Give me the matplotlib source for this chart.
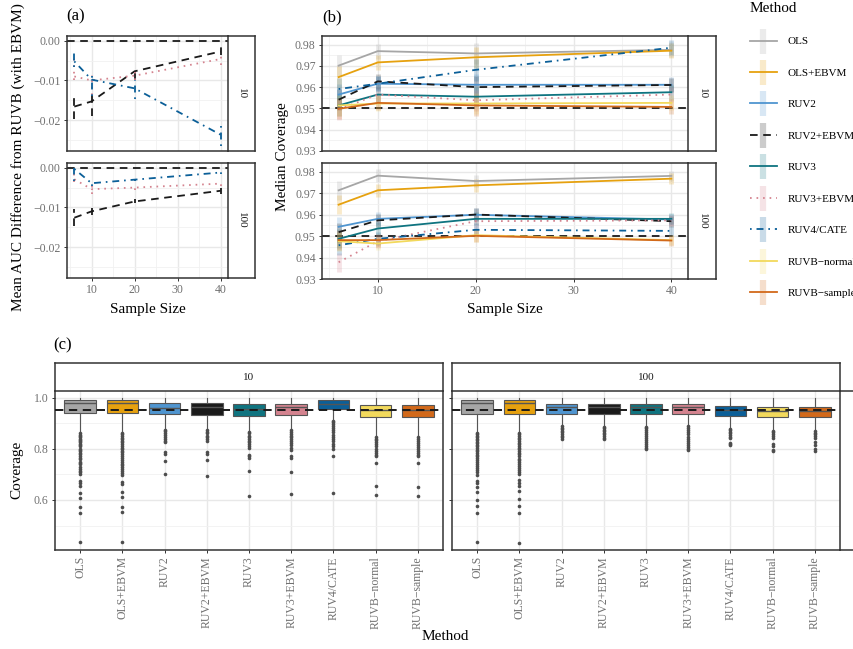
import matplotlib
matplotlib.use("Agg")
import matplotlib.pyplot as plt
import numpy as np
from matplotlib.lines import Line2D
from matplotlib.legend_handler import HandlerTuple

plt.rcParams["font.family"] = ["Liberation Serif", "DejaVu Serif"]
plt.rcParams["lines.scale_dashes"] = False

W, H = 854, 649

methods = ["OLS", "OLS+EBVM", "RUV2", "RUV2+EBVM", "RUV3", "RUV3+EBVM",
           "RUV4/CATE", "RUVB\u2212normal", "RUVB\u2212sample"]
method_colors = ["#a6a6a6", "#e6a10f", "#4f95d0", "#1a1a1a", "#0f7480",
                 "#d4838f", "#0b5f98", "#f2d95c", "#d2691a"]
method_styles = ["-", "-", "-", (0, (5.5, 4)), "-", (0, (1.2, 3.5)),
                 (0, (1.2, 3.5, 5, 3.5)), "-", "-"]

sample_sizes = [6, 10, 20, 40]
control_sets = ["10", "100"]

# (a) mean AUC difference from RUVB, rows: RUV2+EBVM, RUV3+EBVM, RUV4/CATE
auc_methods = [3, 5, 6]
auc_mean_10 = [[-0.0166, -0.0153, -0.0077, -0.0027],
               [-0.0090, -0.0100, -0.0088, -0.0046],
               [-0.0052, -0.0098, -0.0120, -0.0237]]
auc_lo_10 = [[-0.0198, -0.0189, -0.0098, -0.0035],
             [-0.0098, -0.0136, -0.0098, -0.0060],
             [-0.0065, -0.0140, -0.0147, -0.0266]]
auc_hi_10 = [[-0.0140, -0.0128, -0.0075, -0.0014],
             [-0.0044, -0.0086, -0.0078, -0.0030],
             [-0.0023, -0.0083, -0.0098, -0.0208]]
auc_mean_100 = [[-0.0126, -0.0110, -0.0085, -0.0058],
                [-0.0029, -0.0054, -0.0050, -0.0040],
                [-0.0003, -0.0039, -0.0030, -0.0012]]
auc_lo_100 = [[-0.0147, -0.0120, -0.0090, -0.0066],
              [-0.0037, -0.0067, -0.0055, -0.0045],
              [-0.0033, -0.0045, -0.0033, -0.0016]]
auc_hi_100 = [[-0.0103, -0.0102, -0.0080, -0.0050],
              [-0.0003, -0.0046, -0.0045, -0.0035],
              [0.0000, -0.0035, -0.0027, -0.0008]]

# (b) median coverage, rows follow `methods`
cov_med_10 = [[0.9701, 0.9769, 0.9758, 0.9775],
              [0.9647, 0.9716, 0.9740, 0.9771],
              [0.9565, 0.9616, 0.9611, 0.9611],
              [0.9541, 0.9627, 0.9600, 0.9610],
              [0.9514, 0.9565, 0.9555, 0.9576],
              [0.9495, 0.9565, 0.9538, 0.9565],
              [0.9591, 0.9616, 0.9681, 0.9785],
              [0.9514, 0.9523, 0.9523, 0.9526],
              [0.9498, 0.9526, 0.9514, 0.9507]]
cov_med_100 = [[0.9713, 0.9781, 0.9756, 0.9780],
               [0.9646, 0.9713, 0.9736, 0.9767],
               [0.9543, 0.9580, 0.9599, 0.9577],
               [0.9518, 0.9573, 0.9600, 0.9569],
               [0.9487, 0.9535, 0.9580, 0.9580],
               [0.9378, 0.9476, 0.9569, 0.9573],
               [0.9457, 0.9487, 0.9529, 0.9524],
               [0.9476, 0.9465, 0.9504, 0.9481],
               [0.9481, 0.9481, 0.9501, 0.9479]]
cov_err_10 = [0.0050, 0.0035, 0.0050, 0.0035]
cov_err_100 = [0.0045, 0.0030, 0.0030, 0.0025]

# (c) coverage boxplots at sample size 40
box_q1_10 = [0.939, 0.939, 0.935, 0.934, 0.930, 0.932, 0.955, 0.924, 0.924]
box_med_10 = [0.981, 0.981, 0.961, 0.965, 0.956, 0.962, 0.974, 0.950, 0.950]
box_q3_10 = [0.991, 0.991, 0.978, 0.978, 0.975, 0.975, 0.991, 0.973, 0.972]
box_q1_100 = [0.937, 0.937, 0.937, 0.936, 0.936, 0.937, 0.929, 0.924, 0.924]
box_med_100 = [0.978, 0.978, 0.962, 0.962, 0.962, 0.962, 0.952, 0.948, 0.948]
box_q3_100 = [0.991, 0.991, 0.974, 0.974, 0.974, 0.974, 0.969, 0.965, 0.965]
box_top = [1.0] * 9

ols_out_10 = [0.862, 0.855, 0.850, 0.845, 0.840, 0.835, 0.830, 0.825, 0.820,
              0.815, 0.810, 0.800, 0.795, 0.790, 0.785, 0.780, 0.770, 0.765,
              0.760, 0.750, 0.745, 0.740, 0.730, 0.720, 0.715, 0.710, 0.700,
              0.676, 0.666, 0.656, 0.627, 0.607, 0.572, 0.551, 0.437]
ols_ebvm_out_10 = [0.862, 0.856, 0.850, 0.844, 0.838, 0.832, 0.826, 0.820,
                   0.812, 0.805, 0.798, 0.792, 0.786, 0.778, 0.770, 0.764,
                   0.756, 0.748, 0.742, 0.735, 0.728, 0.720, 0.712, 0.705,
                   0.698, 0.672, 0.662, 0.633, 0.611, 0.571, 0.553, 0.434]
outliers_10 = [
    ols_out_10,
    ols_ebvm_out_10,
    [0.874, 0.868, 0.862, 0.855, 0.848, 0.840, 0.832, 0.826, 0.787, 0.780,
     0.754, 0.700],
    [0.874, 0.866, 0.860, 0.852, 0.845, 0.838, 0.830, 0.786, 0.778, 0.758,
     0.693],
    [0.865, 0.860, 0.852, 0.845, 0.840, 0.832, 0.825, 0.818, 0.810, 0.803,
     0.776, 0.770, 0.763, 0.713, 0.617],
    [0.872, 0.866, 0.858, 0.852, 0.845, 0.838, 0.830, 0.822, 0.815, 0.805,
     0.797, 0.770, 0.766, 0.708, 0.623],
    [0.910, 0.905, 0.898, 0.890, 0.882, 0.875, 0.865, 0.855, 0.848, 0.840,
     0.830, 0.820, 0.810, 0.800, 0.773, 0.629],
    [0.847, 0.840, 0.833, 0.826, 0.818, 0.810, 0.800, 0.792, 0.784, 0.776,
     0.770, 0.746, 0.655, 0.620],
    [0.845, 0.838, 0.830, 0.822, 0.815, 0.808, 0.800, 0.790, 0.782, 0.775,
     0.770, 0.746, 0.650, 0.616],
]
ols_out_100 = [0.863, 0.857, 0.851, 0.845, 0.840, 0.834, 0.828, 0.822, 0.816,
               0.810, 0.803, 0.797, 0.790, 0.784, 0.777, 0.770, 0.763, 0.756,
               0.748, 0.740, 0.732, 0.724, 0.716, 0.708, 0.698, 0.676, 0.665,
               0.652, 0.633, 0.600, 0.577, 0.548, 0.437]
ols_ebvm_out_100 = [0.863, 0.856, 0.849, 0.843, 0.837, 0.830, 0.824, 0.818,
                    0.812, 0.805, 0.798, 0.792, 0.785, 0.778, 0.770, 0.762,
                    0.755, 0.748, 0.740, 0.733, 0.725, 0.717, 0.708, 0.700,
                    0.678, 0.668, 0.655, 0.634, 0.602, 0.578, 0.550, 0.433]
outliers_100 = [
    ols_out_100,
    ols_ebvm_out_100,
    [0.888, 0.882, 0.876, 0.870, 0.864, 0.858, 0.852, 0.846, 0.840],
    [0.886, 0.880, 0.874, 0.868, 0.862, 0.856, 0.850, 0.843, 0.837],
    [0.887, 0.880, 0.872, 0.865, 0.857, 0.850, 0.842, 0.835, 0.827, 0.820,
     0.812, 0.805, 0.800],
    [0.888, 0.880, 0.872, 0.864, 0.856, 0.848, 0.840, 0.832, 0.824, 0.816,
     0.808, 0.800, 0.795],
    [0.878, 0.872, 0.866, 0.860, 0.854, 0.848, 0.842, 0.824, 0.818, 0.815],
    [0.871, 0.864, 0.857, 0.850, 0.843, 0.820, 0.812, 0.797, 0.790],
    [0.870, 0.863, 0.856, 0.849, 0.842, 0.826, 0.815, 0.800, 0.790],
]

BORDER = "#333333"
TICKLAB = "#707070"


def add_px_axes(fig, left, top, right, bottom):
    return fig.add_axes([left / W, 1 - bottom / H, (right - left) / W, (bottom - top) / H])


def style_panel(ax):
    ax.set_facecolor("white")
    for spine in ax.spines.values():
        spine.set_color(BORDER)
        spine.set_linewidth(1.1)
    ax.grid(True, which="major", color="#e8e8e8", lw=1.0)
    ax.grid(True, which="minor", color="#f1f1f1", lw=0.6)
    ax.set_axisbelow(True)
    ax.tick_params(which="major", length=2.5, width=0.7, color=BORDER,
                   labelsize=8.5, labelcolor=TICKLAB, pad=2)
    ax.tick_params(which="minor", length=0)


def add_strip(fig, box, text, rotation, shared_side):
    sax = add_px_axes(fig, *box)
    sax.set_xticks([])
    sax.set_yticks([])
    sax.patch.set_alpha(0)
    for name, spine in sax.spines.items():
        spine.set_color(BORDER)
        spine.set_linewidth(1.1)
    sax.spines[shared_side].set_visible(False)
    sax.text(0.5, 0.5, text, rotation=rotation, ha="center", va="center",
             fontsize=8, color="#1a1a1a", transform=sax.transAxes)
    return sax


def minus(v, fmt):
    return (fmt % v).replace("-", "\u2212")


fig = plt.figure(figsize=(W / 100, H / 100), dpi=100)

# ---- (a) ----
auc_sets = [(auc_mean_10, auc_lo_10, auc_hi_10), (auc_mean_100, auc_lo_100, auc_hi_100)]
a_boxes = [(67, 36, 228, 151), (67, 163, 228, 278)]
for k, (mean, lo, hi) in enumerate(auc_sets):
    ax = add_px_axes(fig, *a_boxes[k])
    style_panel(ax)
    ax.axhline(0, color="#1a1a1a", lw=1.3, ls=(0, (5.5, 4)), zorder=2)
    for r, m in enumerate(auc_methods):
        c, ls = method_colors[m], method_styles[m]
        ax.plot(sample_sizes, mean[r], color=c, ls=ls, lw=1.3, zorder=3)
        ax.vlines(sample_sizes, lo[r], hi[r], color=c, linestyles=[ls], lw=1.3, zorder=3)
    ax.set_xlim(4.3, 41.7)
    ax.set_ylim(-0.0278, 0.0012)
    ax.set_xticks([10, 20, 30, 40])
    ax.set_xticks([5, 15, 25, 35], minor=True)
    yt = [0.0, -0.01, -0.02]
    ax.set_yticks(yt)
    ax.set_yticklabels([minus(v, "%.2f") for v in yt])
    ax.set_yticks([-0.005, -0.015, -0.025], minor=True)
    if k == 0:
        ax.tick_params(axis="x", labelbottom=False, length=0)
    add_strip(fig, (228, a_boxes[k][1], 255, a_boxes[k][3]), control_sets[k], -90, "left")

fig.text(18 / W, 1 - 157 / H, "Mean AUC Difference from RUVB (with EBVM)",
         rotation=90, ha="center", va="center", fontsize=11)
fig.text(148 / W, 1 - 309 / H, "Sample Size", ha="center", va="center", fontsize=11)
fig.text(76 / W, 1 - 16 / H, "(a)", ha="center", va="center", fontsize=12)

# ---- (b) ----
cov_sets = [(cov_med_10, cov_err_10), (cov_med_100, cov_err_100)]
b_boxes = [(322, 36, 688, 151), (322, 163, 688, 279)]
for k, (med, err) in enumerate(cov_sets):
    ax = add_px_axes(fig, *b_boxes[k])
    style_panel(ax)
    ax.axhline(0.95, color="#1a1a1a", lw=1.3, ls=(0, (5.5, 4)), zorder=2)
    med = np.array(med)
    err = np.array(err)
    for m in range(len(methods)):
        c = method_colors[m]
        ax.vlines(sample_sizes, med[m] - err, med[m] + err, color=c, alpha=0.22,
                  lw=3.5, zorder=2)
    for m in range(len(methods)):
        ax.plot(sample_sizes, med[m], color=method_colors[m], ls=method_styles[m],
                lw=1.3, zorder=3)
    ax.set_xlim(4.3, 41.7)
    ax.set_ylim(0.930, 0.984)
    ax.set_xticks([10, 20, 30, 40])
    ax.set_xticks([5, 15, 25, 35], minor=True)
    ax.set_yticks([0.93, 0.94, 0.95, 0.96, 0.97, 0.98])
    ax.set_yticks([0.935, 0.945, 0.955, 0.965, 0.975], minor=True)
    if k == 0:
        ax.tick_params(axis="x", labelbottom=False, length=0)
    add_strip(fig, (688, b_boxes[k][1], 716, b_boxes[k][3]), control_sets[k], -90, "left")

fig.text(283 / W, 1 - 157 / H, "Median Coverage", rotation=90, ha="center",
         va="center", fontsize=11)
fig.text(505 / W, 1 - 309 / H, "Sample Size", ha="center", va="center", fontsize=11)
fig.text(332 / W, 1 - 17 / H, "(b)", ha="center", va="center", fontsize=12)

# legend
handles = []
for m in range(len(methods)):
    c = method_colors[m]
    bar = Line2D([], [], color=c, alpha=0.22, marker="|", markersize=18,
                 markeredgewidth=4.5, ls="none")
    line = Line2D([], [], color=c, lw=1.3, ls=method_styles[m])
    handles.append((bar, line))
leg = fig.legend(handles, methods, handler_map={tuple: HandlerTuple(ndivide=1)},
                 loc="upper left", bbox_to_anchor=(740 / W, 1 + 8 / H), frameon=False,
                 title="Method", fontsize=8, title_fontsize=11, labelspacing=1.95,
                 handlelength=2.4, handletextpad=1.0, alignment="left")

# ---- (c) ----
box_sets = [(box_q1_10, box_med_10, box_q3_10, outliers_10),
            (box_q1_100, box_med_100, box_q3_100, outliers_100)]
c_boxes = [(55, 391, 443, 550), (452, 391, 840, 550)]
positions = np.arange(len(methods))
for k, (q1, med, q3, outs) in enumerate(box_sets):
    ax = add_px_axes(fig, *c_boxes[k])
    style_panel(ax)
    stats = []
    for m in range(len(methods)):
        iqr = q3[m] - q1[m]
        stats.append(dict(q1=q1[m], med=med[m], q3=q3[m], whishi=box_top[m],
                          whislo=q1[m] - 1.5 * iqr, fliers=outs[m]))
    bp = ax.bxp(stats, positions=positions, widths=0.75, patch_artist=True,
                showcaps=False,
                boxprops=dict(edgecolor="#555555", linewidth=0.8),
                medianprops=dict(color="#555555", linewidth=1.0),
                whiskerprops=dict(color="#555555", linewidth=0.8),
                flierprops=dict(marker="o", markersize=2.6, markerfacecolor="#4d4d4d",
                                markeredgecolor="none"))
    for patch, c in zip(bp["boxes"], method_colors):
        patch.set_facecolor(c)
    ax.axhline(0.95, color="#1a1a1a", lw=1.4, ls=(0, (6, 4)), zorder=5)
    ax.set_xlim(-0.6, len(methods) - 0.4)
    ax.set_ylim(0.4045, 1.026)
    ax.set_xticks(positions)
    ax.set_xticklabels(methods, rotation=90)
    ax.set_yticks([0.6, 0.8, 1.0])
    ax.set_yticks([0.5, 0.7, 0.9], minor=True)
    if k == 1:
        ax.tick_params(axis="y", labelleft=False)
    else:
        ax.set_yticklabels(["0.6", "0.8", "1.0"])
    add_strip(fig, (c_boxes[k][0], 363, c_boxes[k][2], 391), control_sets[k], 0, "bottom")

add_strip(fig, (840, 391, 868, 550), "40", -90, "left")
fig.text(17 / W, 1 - 470 / H, "Coverage", rotation=90, ha="center", va="center", fontsize=11)
fig.text(445 / W, 1 - 637 / H, "Method", ha="center", va="center", fontsize=11)
fig.text(63 / W, 1 - 345 / H, "(c)", ha="center", va="center", fontsize=12)

fig.savefig("out.png", dpi=100)
